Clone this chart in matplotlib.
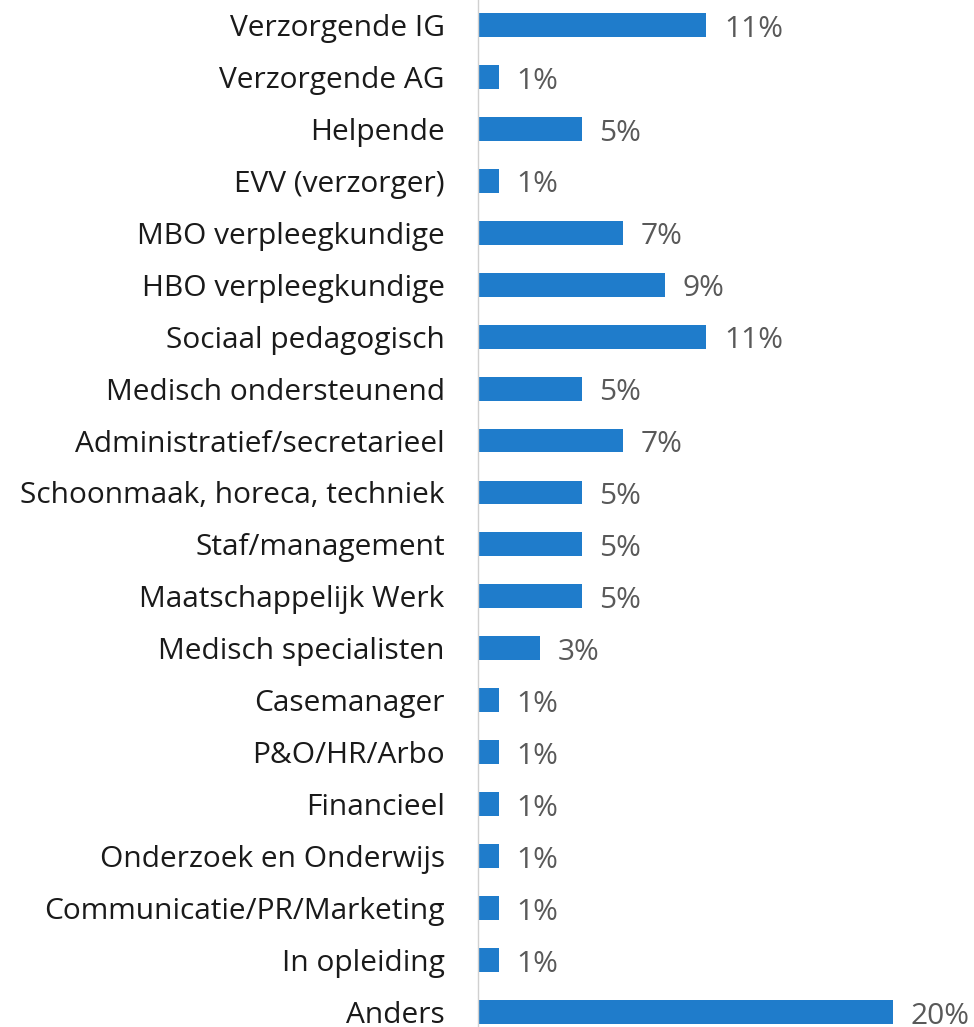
import matplotlib
matplotlib.use("Agg")
from matplotlib import pyplot as plt

categories = ["Verzorgende IG", "Verzorgende AG", "Helpende", "EVV (verzorger)",
              "MBO verpleegkundige", "HBO verpleegkundige", "Sociaal pedagogisch",
              "Medisch ondersteunend", "Administratief/secretarieel",
              "Schoonmaak, horeca, techniek", "Staf/management", "Maatschappelijk Werk",
              "Medisch specialisten", "Casemanager", "P&O/HR/Arbo", "Financieel",
              "Onderzoek en Onderwijs", "Communicatie/PR/Marketing", "In opleiding", "Anders"]
values = [11, 1, 5, 1, 7, 9, 11, 5, 7, 5, 5, 5, 3, 1, 1, 1, 1, 1, 1, 20]

plt.rcParams["font.family"] = ["Open Sans", "DejaVu Sans"]

fig = plt.figure(figsize=(9.74, 10.27), dpi=100)
ax = fig.add_axes([478 / 974, 0, 1 - 478 / 974, 1])

pos = list(range(len(categories)))
ax.barh(pos, values, height=0.46, color="#1F7CCB")
for i, v in enumerate(values):
    ax.text(v + 0.85, i + 0.08, f"{v}%", va="center", ha="left", fontsize=21.5, color="#595959")

ax.set_xlim(0, 23.9)
ax.set_ylim(19.29, -0.481)
ax.set_yticks(pos)
ax.set_yticklabels(categories, fontsize=21.5, color="#1a1a1a")
ax.tick_params(axis="y", length=0, pad=24)
ax.set_xticks([])
for side in ["top", "right", "bottom"]:
    ax.spines[side].set_visible(False)
ax.spines["left"].set_color("#d0d0d0")
ax.spines["left"].set_linewidth(1)

plt.savefig("out.png", dpi=100)
plt.close()
